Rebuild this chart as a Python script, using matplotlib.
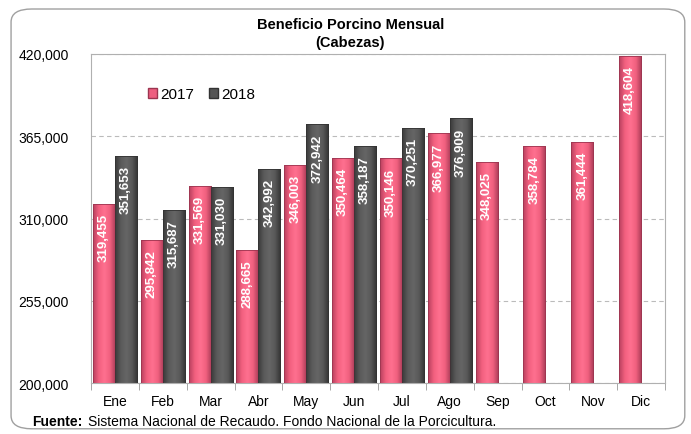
import numpy as np
import matplotlib.pyplot as plt
from matplotlib.patches import FancyBboxPatch, Patch
from matplotlib.colors import LinearSegmentedColormap

plt.rcParams['font.family'] = ['Liberation Sans', 'DejaVu Sans']

meses = ["Ene", "Feb", "Mar", "Abr", "May", "Jun", "Jul", "Ago", "Sep", "Oct", "Nov", "Dic"]
v2017 = [319455, 295842, 331569, 288665, 346003, 350464, 350146, 366977, 348025, 358784, 361444, 418604]
v2018 = [351653, 315687, 331030, 342992, 372942, 358187, 370251, 376909]

rosa = "#EE5F80"
gris = "#555555"
cmap_rosa = LinearSegmentedColormap.from_list("rosa", ["#B8405E", "#F2607F", "#FF7090", "#F0607F", "#A83A56"])
cmap_gris = LinearSegmentedColormap.from_list("gris", ["#3A3A3A", "#5A5A5A", "#666666", "#585858", "#333333"])

fig = plt.figure(figsize=(6.91, 4.35), dpi=100)
fig.patch.set_facecolor("white")

# marco redondeado
marco = FancyBboxPatch((0.016, 0.012), 0.975, 0.965, boxstyle="round,pad=0,rounding_size=0.03",
                       transform=fig.transFigure, fill=False, edgecolor="#A0A0A0", linewidth=1.0)
fig.patches.append(marco)

ax = fig.add_axes([0.1317, 0.1172, 0.8307, 0.7564])

x = np.arange(len(meses))
ancho = 0.46
x17 = x - ancho / 2
x18 = x[:len(v2018)] + ancho / 2

base = 200000
grad = np.linspace(0, 1, 64).reshape(1, -1)


def barras(xs, vals, cmap, borde):
    rects = ax.bar(xs, np.array(vals) - base, ancho, bottom=base, color="none",
                   edgecolor=borde, linewidth=0.6, zorder=3)
    for r in rects:
        x0, y0 = r.get_x(), r.get_y()
        im = ax.imshow(grad, extent=[x0, x0 + r.get_width(), y0, y0 + r.get_height()],
                       aspect="auto", cmap=cmap, zorder=2.5, interpolation="bicubic")
        im.set_clip_path(r)


barras(x17, v2017, cmap_rosa, "#9C3550")
barras(x18, v2018, cmap_gris, "#333333")

for xi, v in zip(x17, v2017):
    ax.text(xi, v - 6000, f"{v:,}", rotation=90, ha="center", va="top", color="white",
            fontsize=9.5, fontweight="bold", zorder=4)
for xi, v in zip(x18, v2018):
    ax.text(xi, v - 6000, f"{v:,}", rotation=90, ha="center", va="top", color="white",
            fontsize=9.5, fontweight="bold", zorder=4)

ax.set_xlim(-0.5, len(meses) - 0.5)
ax.set_ylim(200000, 420000)
ax.set_yticks([200000, 255000, 310000, 365000, 420000])
ax.set_yticklabels([f"{t:,}" for t in [200000, 255000, 310000, 365000, 420000]], fontsize=10)
ax.yaxis.grid(True, linestyle=(0, (4, 3)), color="#BBBBBB", linewidth=0.8, zorder=0)
ax.tick_params(axis="y", length=0, pad=16)

ax.set_xticks(x)
ax.set_xticklabels(meses, fontsize=10)
ax.set_xticks(np.arange(-0.5, len(meses)), minor=True)
ax.tick_params(axis="x", which="major", length=0, pad=8)
ax.tick_params(axis="x", which="minor", length=5, color="#999999")

for s in ax.spines.values():
    s.set_color("#B0B0B0")
    s.set_linewidth(0.8)

handles = [Patch(facecolor=rosa, edgecolor="#9C3550"), Patch(facecolor=gris, edgecolor="#333333")]
ax.legend(handles, ["2017", "2018"], loc="upper left", bbox_to_anchor=(0.075, 0.94), ncol=2,
          frameon=False, fontsize=11, handlelength=0.6, handleheight=0.6, handletextpad=0.2,
          columnspacing=1.0)

fig.text(0.507, 0.922, "Beneficio Porcino Mensual\n(Cabezas)", ha="center", va="center",
         fontsize=10.5, fontweight="bold", linespacing=1.3)

fig.text(0.046, 0.02, "Fuente:", fontsize=10, fontweight="bold", va="baseline")
fig.text(0.127, 0.02, "Sistema Nacional de Recaudo. Fondo Nacional de la Porcicultura.", fontsize=10,
         va="baseline")

fig.savefig("out.png", dpi=100)
